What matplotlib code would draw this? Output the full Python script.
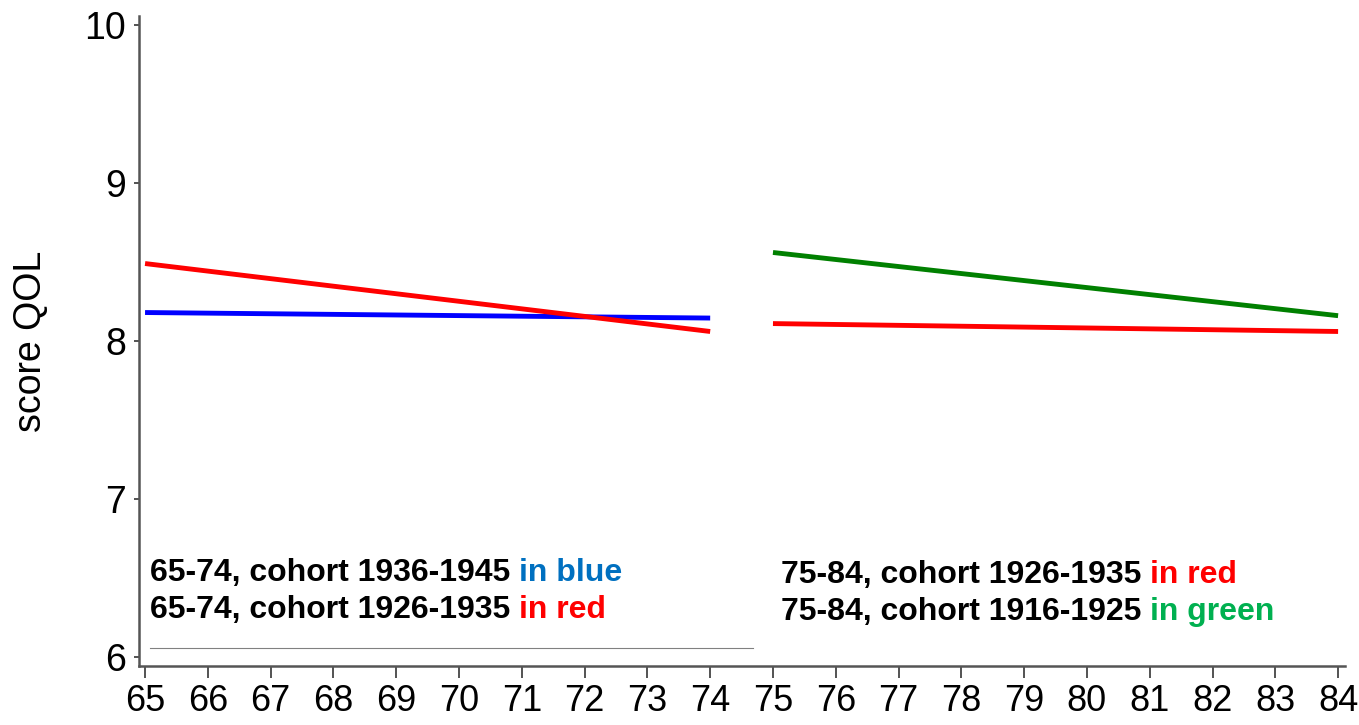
import matplotlib
matplotlib.use("Agg")
import matplotlib.pyplot as plt

plt.rcParams['font.family'] = ['Liberation Sans', 'DejaVu Sans']

# Data
ages_6574 = [65, 74]
blue_6574 = [8.18, 8.145]
red_6574 = [8.49, 8.06]
ages_7584 = [75, 84]
red_7584 = [8.11, 8.06]
green_7584 = [8.56, 8.16]
xticks = list(range(65, 85))
yticks = [6, 7, 8, 9, 10]

fig = plt.figure(figsize=(13.59, 7.25), dpi=100)
ax = fig.add_axes([0.1023, 0.0814, 0.8874, 0.8966])

ax.plot(ages_6574, blue_6574, color='#0000FF', lw=3.5, solid_capstyle='butt')
ax.plot(ages_6574, red_6574, color='#FF0000', lw=3.5, solid_capstyle='butt')
ax.plot(ages_7584, red_7584, color='#FF0000', lw=3.5, solid_capstyle='butt')
ax.plot(ages_7584, green_7584, color='#008000', lw=3.5, solid_capstyle='butt')

# thin grey rule under the left legend text
ax.plot([65.08, 74.68], [6.057, 6.057], color='#808080', lw=0.8)

ax.set_xlim(64.904, 84.11)
ax.set_ylim(5.943, 10.057)
ax.set_xticks(xticks)
ax.set_yticks(yticks)
ax.tick_params(axis='x', labelsize=26, length=8.5, width=1.3, color='#444444', pad=4.5)
ax.tick_params(axis='y', labelsize=27, length=3.5, width=1.3, color='#444444', pad=6)
for s in ['top', 'right']:
    ax.spines[s].set_visible(False)
for s in ['left', 'bottom']:
    ax.spines[s].set_color('#555555')
    ax.spines[s].set_linewidth(1.8)
ax.set_ylabel('score QOL', fontsize=27)
ax.yaxis.set_label_coords(-0.0747, 0.5)

def two_tone(x, y, black, colored, color):
    t = ax.text(x, y, black, fontsize=23, fontweight='bold', color='black', va='baseline', ha='left')
    ax.annotate(colored, xy=(1, 0), xycoords=t, xytext=(0, 0), textcoords='offset points',
                fontsize=23, fontweight='bold', color=color, va='bottom', ha='left')

two_tone(65.08, 6.483, '65-74, cohort 1936-1945 ', 'in blue', '#0070C0')
two_tone(65.08, 6.247, '65-74, cohort 1926-1935 ', 'in red', '#FF0000')
two_tone(75.13, 6.470, '75-84, cohort 1926-1935 ', 'in red', '#FF0000')
two_tone(75.13, 6.234, '75-84, cohort 1916-1925 ', 'in green', '#00B050')

fig.savefig('out.png', dpi=100)
